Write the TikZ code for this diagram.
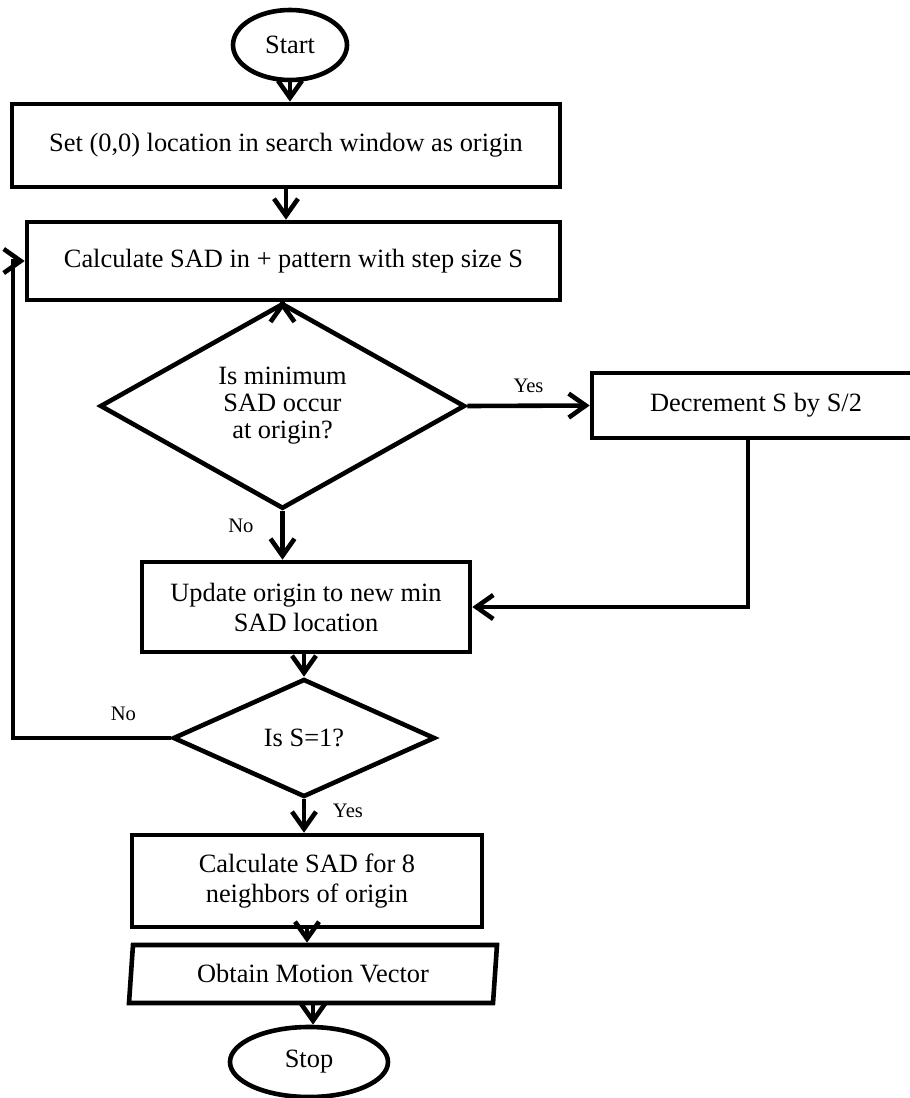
\documentclass[tikz,border=0pt]{standalone}
\usepackage{fontspec}
\setmainfont{Liberation Serif}
\usetikzlibrary{shapes,arrows.meta,positioning}

\begin{document}
\begin{tikzpicture}[
    x=0.5pt, y=-0.5pt,
    line width=2.3pt,
    font=\fontsize{13.2}{15}\selectfont,
    box/.style={rectangle, draw, align=center, inner sep=2pt},
    term/.style={ellipse, draw, inner sep=0pt},
    decision/.style={diamond, draw, align=center, inner sep=0pt, font=\fontsize{13.2}{13.5}\selectfont},
    io/.style={trapezium, trapezium left angle=78, trapezium right angle=102, trapezium stretches body, draw, inner sep=0pt},
    arrow/.style={-{Straight Barb[length=8.5pt,width=12pt]}},
    lbl/.style={font=\fontsize{10.3}{12}\selectfont}
]
    \useasboundingbox (0,0) rectangle (910,1098);

    % Start
    \node[term, minimum width=57pt, minimum height=35pt] (start) at (290,45) {Start};

    % Search steps
    \node[box, minimum width=274pt, minimum height=41.5pt] (setorigin) at (286,145.5) {Set (0,0) location in search window as origin};
    \node[box, minimum width=266.5pt, minimum height=39pt] (calcsad) at (293.5,261) {Calculate SAD in + pattern with step size S};

    % First decision
    \node[decision, minimum width=182.5pt, minimum height=99pt] (ismin) at (282.5,406) {Is minimum\\SAD occur\\at origin?};
    \node[box, minimum width=164pt, minimum height=32.5pt] (decstep) at (756,405.5) {Decrement S by S/2};
    \node[box, minimum width=164pt, minimum height=45pt] (update) at (306,607) {Update origin to new min\\SAD location};

    % Second decision
    \node[decision, minimum width=131pt, minimum height=59pt] (isone) at (304,738) {Is S=1?};
    \coordinate (loop) at (13,738);

    % Final steps
    \node[box, minimum width=175pt, minimum height=46pt] (neigh) at (307,881) {Calculate SAD for 8\\neighbors of origin};
    \node[io, minimum width=184pt, minimum height=29pt] (motion) at (313,974) {Obtain Motion Vector};
    \node[term, minimum width=79pt, minimum height=35pt] (stop) at (309,1062) {Stop};

    % Arrows
    \draw[arrow] (start.south) -- (start.south |- setorigin.north);
    \draw[arrow] (setorigin.south) -- (setorigin.south |- calcsad.north);
    \draw[arrow] (ismin.north |- calcsad.south) -- (ismin.north);
    \draw[arrow] (ismin.east) -- node[lbl, above=2pt] {Yes} (decstep.west);
    \draw[arrow] (ismin.south) -- node[lbl, left=10pt, pos=0.3] {No} (ismin.south |- update.north);
    \draw[arrow] ([xshift=-4pt]decstep.south) |- (update.east);
    \draw[arrow] (update.south -| isone.north) -- (isone.north);
    \draw[arrow] (isone.west) -- node[lbl, above=4pt, pos=0.3] {No} (loop) |- (calcsad.west);
    \draw[arrow] (isone.south) -- node[lbl, right=10pt, pos=0.35] {Yes} (isone.south |- neigh.north);
    \draw[arrow] (neigh.south) -- (neigh.south |- motion.north);
    \draw[arrow] (motion.south) -- (motion.south |- stop.north);

\end{tikzpicture}
\end{document}
